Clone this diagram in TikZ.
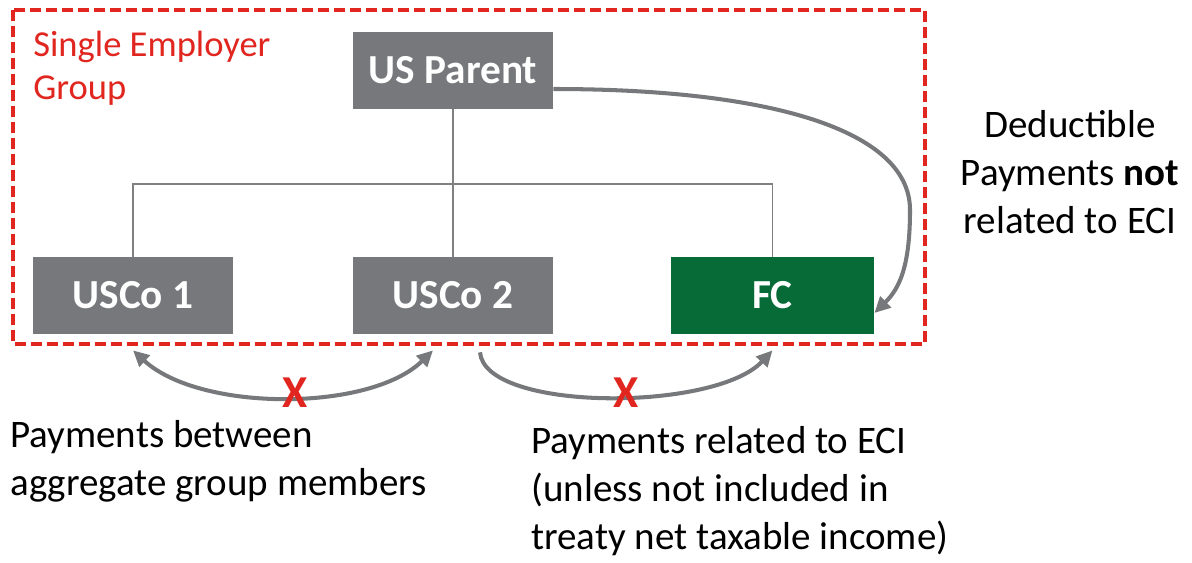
\documentclass[tikz,border=0pt]{standalone}
\usepackage{fontspec}
\setmainfont{Carlito}
\usepackage{xcolor}
\usepackage{tikz}
\usetikzlibrary{arrows.meta}

\definecolor{boxgray}{HTML}{76787B}
\definecolor{fcgreen}{HTML}{066B37}
\definecolor{groupred}{HTML}{E0261F}
\definecolor{linegray}{HTML}{808080}

\begin{document}
\begin{tikzpicture}[x=0.02cm,y=-0.02cm,
  >={Triangle[length=0.32cm,width=0.3cm]},
  entity/.style={fill=boxgray,text=white,font=\fontsize{23.5}{27}\selectfont\bfseries,
    minimum width=4cm,minimum height=1.54cm,inner sep=0pt},
  tie/.style={draw=linegray,line width=1.1pt},
  pay/.style={draw=boxgray,line width=2.3pt},
  xmark/.style={text=groupred,font=\fontsize{26}{30}\selectfont\bfseries,inner sep=0pt,yshift=0.07cm},
  note/.style={align=left,font=\fontsize{22.2}{27.3}\selectfont,inner sep=0pt}]

\useasboundingbox (0,0) rectangle (1192,562);

% single employer group
\draw[groupred,line width=2.1pt,dash pattern=on 0.22cm off 0.1cm] (13,10) rectangle (925,344);
\node[anchor=north west,align=left,text=groupred,inner sep=0pt,
  font=\fontsize{20.8}{24.4}\selectfont] (sglabel) at (33,31) {Single Employer\\Group};

% entities
\node[entity] (parent) at (453,70.5) {US Parent};
\node[entity] (usco1) at (133,295.5) {USCo 1};
\node[entity] (usco2) at (453,295.5) {USCo 2};
\node[entity,fill=fcgreen,minimum width=4.06cm] (fc) at (772.5,295.5) {FC};

% ownership lines
\coordinate (bar) at (453,184);
\draw[tie] (parent) -- (usco2);
\draw[tie] (usco1.north) -- (usco1.north |- bar) -- (fc.north |- bar) -- (fc.north);

% payments
\draw[pay,->] ([yshift=-0.37cm]parent.east) .. controls (770,89) and (910,130) .. (910,210)
  .. controls (910,265) and (900,288) .. ([yshift=-0.35cm]fc.east);
\draw[pay,<->] ([yshift=-0.32cm]usco1.south) .. controls (200,412) and (370,412)
  .. ([xshift=-0.4cm,yshift=-0.32cm]usco2.south) node[xmark,pos=0.53] (x1) {X};
\draw[pay,->] ([xshift=0.54cm,yshift=-0.36cm]usco2.south) .. controls (485,412) and (715,412)
  .. ([yshift=-0.32cm]fc.south) node[xmark,pos=0.55] (x2) {X};

% notes (base = last line)
\node[note,align=center,anchor=base] (deduct) at (1070,233) {Deductible\\Payments \textbf{not}\\related to ECI};
\node[note,anchor=base west] (between) at (10,495) {Payments between\\aggregate group members};
\node[note,anchor=base west] (eci) at (531,549) {Payments related to ECI\\(unless not included in\\treaty net taxable income)};
\end{tikzpicture}
\end{document}
